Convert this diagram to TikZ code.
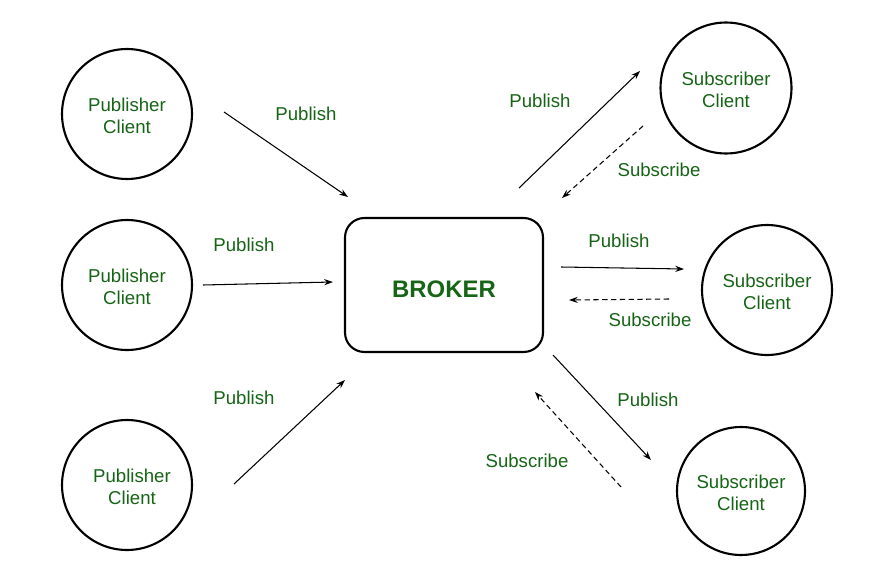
\documentclass[tikz,border=0pt]{standalone}
\usepackage{fontspec}
\setmainfont{Liberation Sans}
\usetikzlibrary{arrows.meta}
\definecolor{txtgreen}{RGB}{22,100,22}
\tikzset{
  client/.style={circle,draw=black,line width=1.2pt,minimum size=2.6cm,inner sep=0pt},
  ctext/.style={align=center,text=txtgreen,font=\fontsize{10.6}{12.4}\selectfont,yshift=-0.04cm},
  brokerbox/.style={draw=black,line width=1.2pt,rounded corners=11pt,minimum width=3.96cm,minimum height=2.68cm,text=txtgreen,font=\bfseries\fontsize{13.6}{15}\selectfont},
  lbl/.style={text=txtgreen,font=\fontsize{10.6}{12}\selectfont,inner sep=0pt},
  pub/.style={draw=black,line width=0.6pt,-{Stealth[length=5pt,width=3.5pt]}},
  sub/.style={draw=black,line width=0.6pt,dash pattern=on 3pt off 2pt,-{Stealth[length=5pt,width=3.5pt]}}
}
\begin{document}
\begin{tikzpicture}[x=0.02cm,y=-0.02cm]
\useasboundingbox (0,0) rectangle (889,581);
\fill[white] (0,0) rectangle (889,581);
\node[client,label={[ctext]center:Publisher\\Client}] (p1) at (127,114) {};
\node[client,label={[ctext]center:Publisher\\Client}] (p2) at (127,285) {};
\node[client,label={[ctext,xshift=0.1cm]center:Publisher\\Client}] (p3) at (127,485) {};
\node[client,minimum size=2.62cm,label={[ctext]center:Subscriber\\Client}] (s1) at (726,88) {};
\node[client,label={[ctext]center:Subscriber\\Client}] (s2) at (767,290) {};
\node[client,minimum size=2.56cm,label={[ctext]center:Subscriber\\Client}] (s3) at (741,491) {};
\node[brokerbox,label={[text=txtgreen,font=\bfseries\fontsize{13.6}{15}\selectfont,yshift=-0.08cm]center:BROKER}] (broker) at (444,285) {};
% connector end points
\coordinate (a1) at (224,112); \coordinate (b1) at (348,197);
\coordinate (a2) at (203,285); \coordinate (b2) at (333,282);
\coordinate (a3) at (234,484); \coordinate (b3) at (345,380);
\coordinate (c1) at (519,188); \coordinate (d1) at (640,71);
\coordinate (e1) at (643,126); \coordinate (f1) at (562,198);
\coordinate (c2) at (561,267); \coordinate (d2) at (684,269);
\coordinate (e2) at (669,299); \coordinate (f2) at (569,300);
\coordinate (c3) at (553,355); \coordinate (d3) at (651,460);
\coordinate (e3) at (621,487); \coordinate (f3) at (535,392);
\draw[pub] (a1) -- (b1);
\draw[pub] (a2) -- (b2);
\draw[pub] (a3) -- (b3);
\draw[pub] (c1) -- (d1);
\draw[sub] (e1) -- (f1);
\draw[pub] (c2) -- (d2);
\draw[sub] (e2) -- (f2);
\draw[pub] (c3) -- (d3);
\draw[sub] (e3) -- (f3);
\node[lbl] (l1) at (306,114) {Publish};
\node[lbl] (l2) at (244,245) {Publish};
\node[lbl] (l3) at (244,398) {Publish};
\node[lbl] (l4) at (540,101) {Publish};
\node[lbl] (l5) at (659,170) {Subscribe};
\node[lbl] (l6) at (619,241) {Publish};
\node[lbl] (l7) at (650,320) {Subscribe};
\node[lbl] (l8) at (648,400) {Publish};
\node[lbl] (l9) at (527,461) {Subscribe};
\end{tikzpicture}
\end{document}
